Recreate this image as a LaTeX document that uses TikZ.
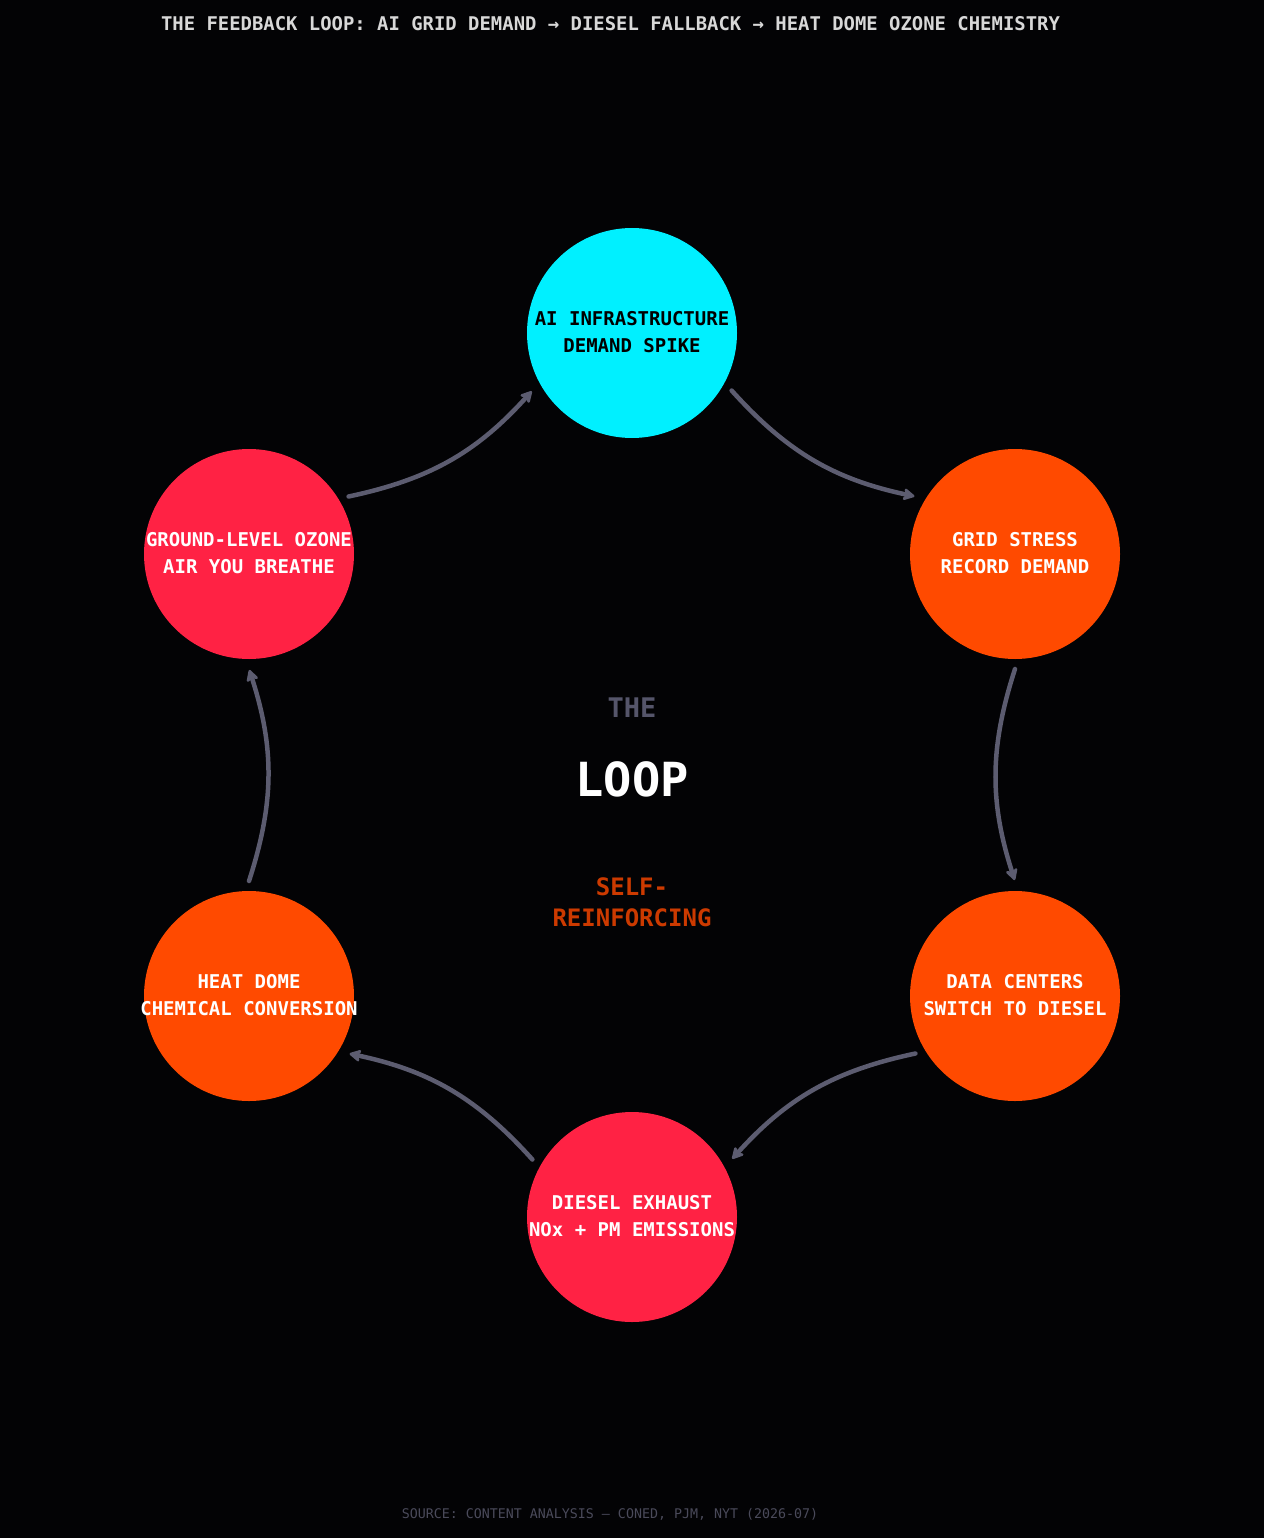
\documentclass[tikz,border=0pt]{standalone}
\usepackage{fontspec}
\setmainfont{DejaVu Sans Mono}
\usetikzlibrary{arrows.meta}
\definecolor{bg}{HTML}{030305}
\definecolor{cyanN}{HTML}{00F0FF}
\definecolor{orangeN}{HTML}{FF4A00}
\definecolor{redN}{HTML}{FF2244}
\definecolor{arrowC}{HTML}{5C5C70}
\definecolor{theC}{HTML}{55556A}
\definecolor{titleC}{HTML}{D8D8D8}
\definecolor{footC}{HTML}{4A4A5A}
\definecolor{selfC}{HTML}{CC3A00}
\tikzset{
  circ/.style={circle, minimum size=210pt, inner sep=0pt, outer sep=10pt, draw=none},
  lbl/.style={align=center, font=\bfseries\fontsize{19pt}{27pt}\selectfont},
  arr/.style={draw=arrowC, line width=4.5pt, line cap=round, shorten >=1pt,
    -{Stealth[length=14pt,width=15pt,inset=4pt,round]}},
}
\begin{document}
\begin{tikzpicture}[x=1pt,y=-1pt]
\fill[bg] (0,0) rectangle (1264,1538);
\useasboundingbox (0,0) rectangle (1264,1538);

\node[font=\bfseries\fontsize{18.9pt}{22pt}\selectfont, text=titleC] (title) at (610.5,23.5)
  {THE FEEDBACK LOOP: AI GRID DEMAND → DIESEL FALLBACK → HEAT DOME OZONE CHEMISTRY};

\node[circ, fill=cyanN] (c1) at (632,333) {};
\node[circ, fill=orangeN] (c2) at (1015,554) {};
\node[circ, fill=orangeN] (c3) at (1015,996) {};
\node[circ, fill=redN] (c4) at (632,1217) {};
\node[circ, fill=orangeN] (c5) at (249,996) {};
\node[circ, fill=redN] (c6) at (249,554) {};

\node[lbl, text=black] (t1) at (632,332) {AI INFRASTRUCTURE\\DEMAND SPIKE};
\node[lbl, text=white] (t2) at (1015,553) {GRID STRESS\\RECORD DEMAND};
\node[lbl, text=white] (t3) at (1015,995) {DATA CENTERS\\SWITCH TO DIESEL};
\node[lbl, text=white] (t4) at (632,1216) {DIESEL EXHAUST\\NOx + PM EMISSIONS};
\node[lbl, text=white] (t5) at (249,995) {HEAT DOME\\CHEMICAL CONVERSION};
\node[lbl, text=white] (t6) at (249,553) {GROUND-LEVEL OZONE\\AIR YOU BREATHE};

\draw[arr] (c1.-30) to[bend right=18] (c2.150);
\draw[arr] (c2.-90) to[bend right=18] (c3.90);
\draw[arr] (c3.-150) to[bend right=18] (c4.30);
\draw[arr] (c4.150) to[bend right=18] (c5.-30);
\draw[arr] (c5.90) to[bend right=18] (c6.-90);
\draw[arr] (c6.30) to[bend right=18] (c1.-150);

\node[font=\bfseries\fontsize{27pt}{30pt}\selectfont, text=theC] (the) at (632,708) {THE};
\node[font=\bfseries\fontsize{47pt}{50pt}\selectfont, text=white] (loop) at (632,779) {LOOP};
\node[font=\bfseries\fontsize{24pt}{31pt}\selectfont, text=selfC, align=center] (self) at (632,902) {SELF-\\REINFORCING};

\node[font=\fontsize{13.3pt}{16pt}\selectfont, text=footC] (foot) at (610,1514)
  {SOURCE: CONTENT ANALYSIS — CONED, PJM, NYT (2026-07)};
\end{tikzpicture}
\end{document}
